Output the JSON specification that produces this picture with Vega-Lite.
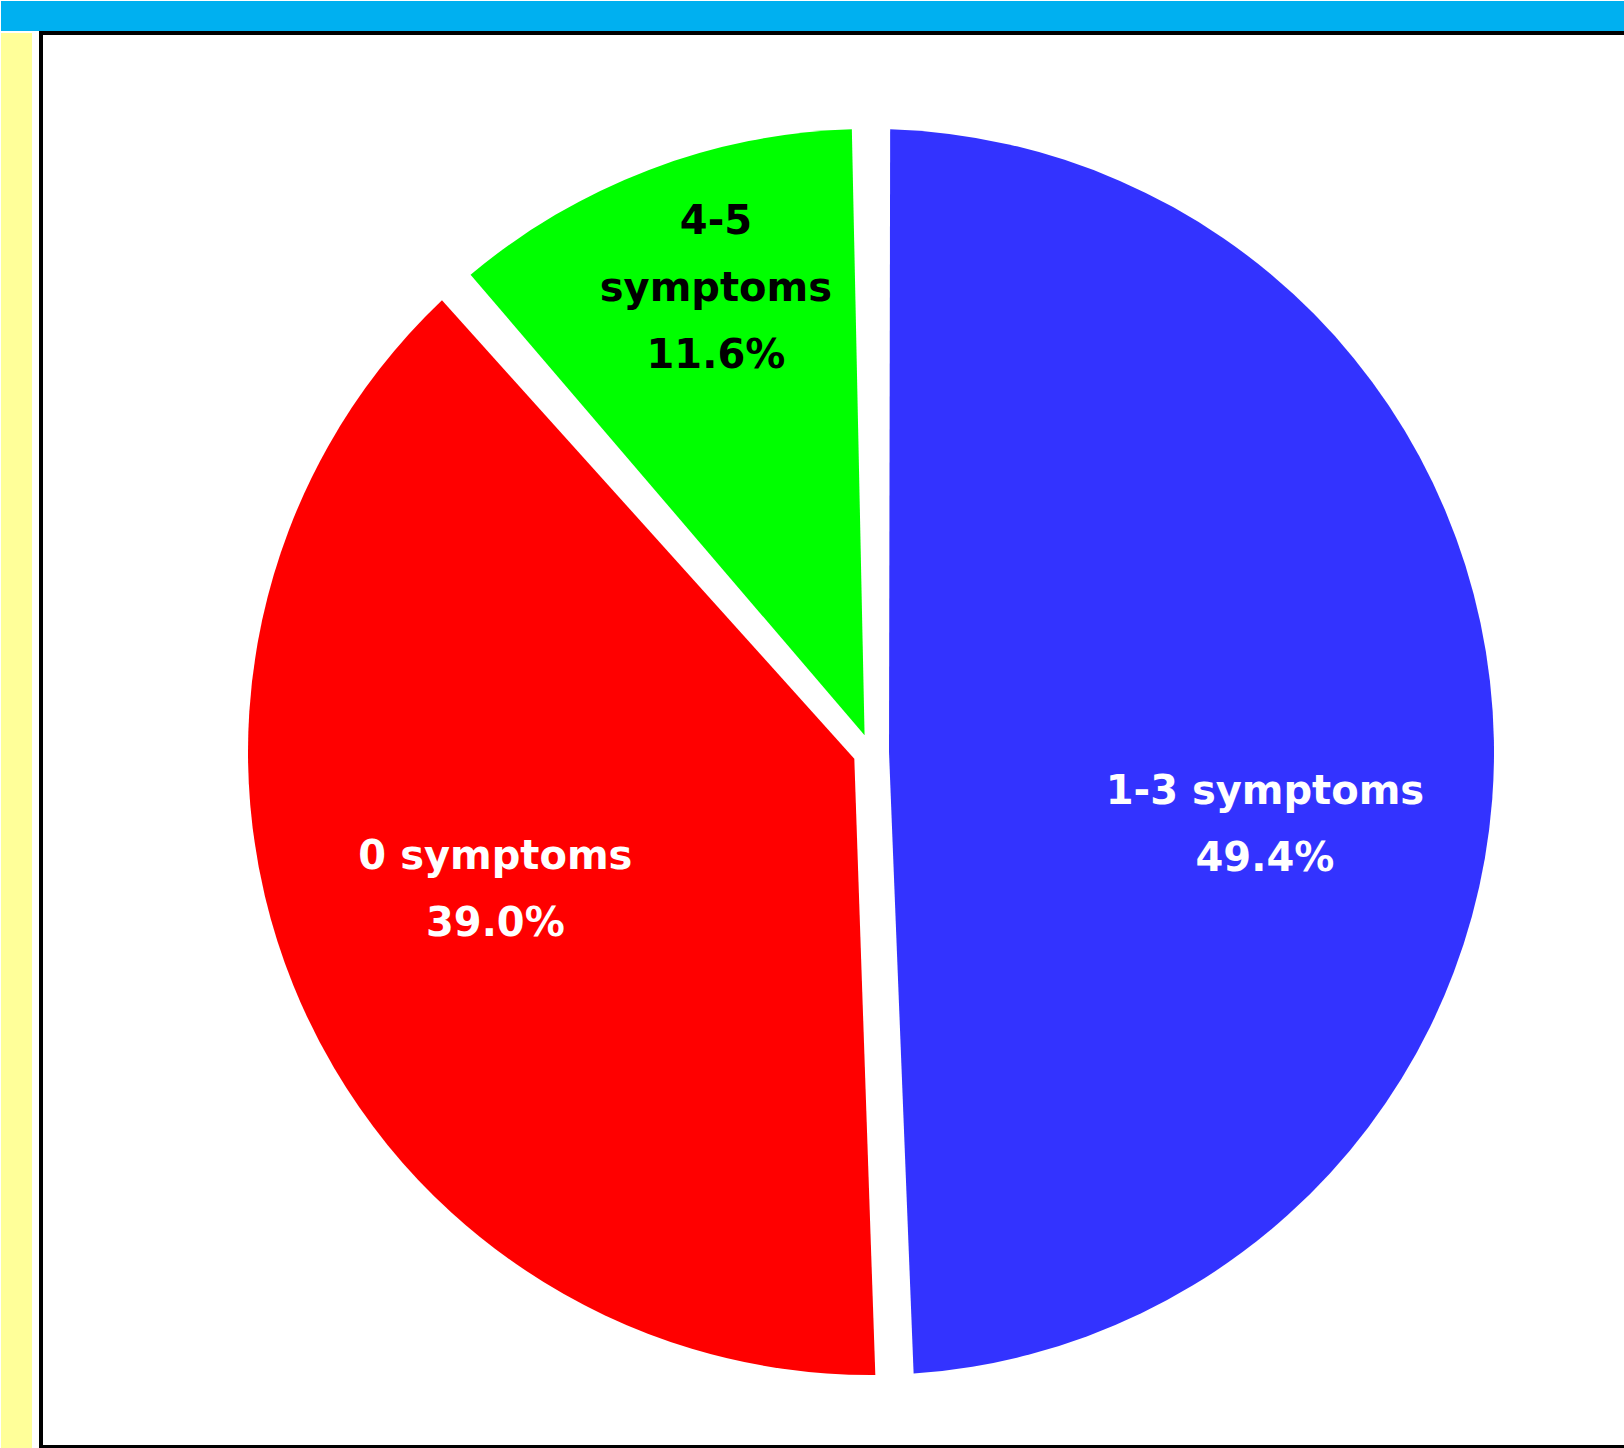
{
  "$schema": "https://vega.github.io/schema/vega-lite/v6.json",
  "background": "white",
  "padding": 0,
  "spacing": 0,
  "data": {"values": [
    {"category": "1-3 symptoms", "percent": 49.4, "order": 1, "label": "1-3 symptoms|49.4%"},
    {"category": "0 symptoms", "percent": 39.0, "order": 2, "label": "0 symptoms|39.0%"},
    {"category": "4-5 symptoms", "percent": 11.6, "order": 3, "label": "4-5|symptoms|11.6%"}
  ]},
  "vconcat": [
    {
      "width": 1624, "height": 30,
      "view": {"fill": "#00B0F0", "stroke": null},
      "mark": {"type": "rule", "opacity": 0},
      "encoding": {}
    },
    {
      "spacing": 7,
      "hconcat": [
        {
          "width": 31, "height": 1418,
          "view": {"fill": "#FFFF99", "stroke": null},
          "mark": {"type": "rule", "opacity": 0},
          "encoding": {}
        },
        {
          "width": 1600, "height": 1414,
          "view": {"fill": "white", "stroke": "black", "strokeWidth": 4},
          "layer": [
            {
              "mark": {"type": "arc", "x": 830, "y": 719, "outerRadius": 623, "innerRadius": 18, "padAngle": 0.0615},
              "encoding": {
                "theta": {"field": "percent", "type": "quantitative", "stack": true},
                "order": {"field": "order", "type": "quantitative"},
                "color": {"field": "category", "type": "nominal", "legend": null,
                  "scale": {"domain": ["1-3 symptoms", "0 symptoms", "4-5 symptoms"], "range": ["#3333FF", "#FF0000", "#00FF00"]}}
              }
            },
            {
              "mark": {"type": "text", "x": 830, "y": 718, "radius": 394, "dy": 48, "font": "DejaVu Sans", "fontSize": 40, "fontWeight": "bold", "lineHeight": 67, "lineBreak": "|", "align": "center", "baseline": "middle", "fill": "white"},
              "encoding": {
                "theta": {"field": "percent", "type": "quantitative", "stack": true},
                "order": {"field": "order", "type": "quantitative"},
                "text": {"condition": {"test": "datum.category === '1-3 symptoms'", "field": "label", "type": "nominal"}, "value": ""}
              }
            },
            {
              "mark": {"type": "text", "x": 830, "y": 718, "radius": 405, "dy": -45, "font": "DejaVu Sans", "fontSize": 40, "fontWeight": "bold", "lineHeight": 67, "lineBreak": "|", "align": "center", "baseline": "middle", "fill": "white"},
              "encoding": {
                "theta": {"field": "percent", "type": "quantitative", "stack": true},
                "order": {"field": "order", "type": "quantitative"},
                "text": {"condition": {"test": "datum.category === '0 symptoms'", "field": "label", "type": "nominal"}, "value": ""}
              }
            },
            {
              "mark": {"type": "text", "x": 830, "y": 718, "radius": 494, "dx": 21, "dy": -67, "font": "DejaVu Sans", "fontSize": 40, "fontWeight": "bold", "lineHeight": 67, "lineBreak": "|", "align": "center", "baseline": "middle", "fill": "black"},
              "encoding": {
                "theta": {"field": "percent", "type": "quantitative", "stack": true},
                "order": {"field": "order", "type": "quantitative"},
                "text": {"condition": {"test": "datum.category === '4-5 symptoms'", "field": "label", "type": "nominal"}, "value": ""}
              }
            }
          ]
        }
      ]
    }
  ]
}
